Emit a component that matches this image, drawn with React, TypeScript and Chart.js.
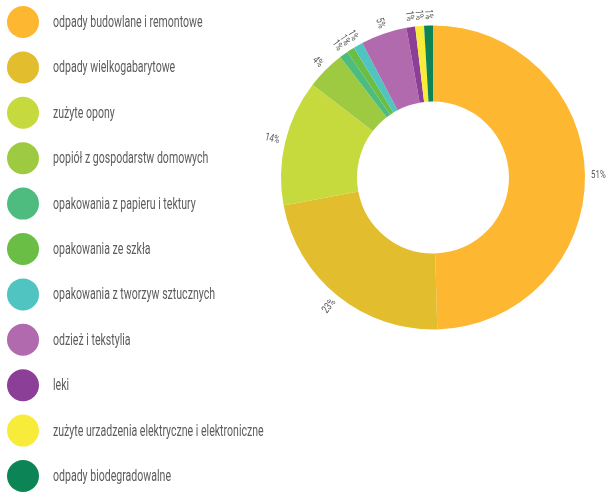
import React, { useEffect, useRef } from "react";
import { Chart, registerables } from "chart.js";

Chart.register(...registerables);

const categories = [
  "odpady budowlane i remontowe",
  "odpady wielkogabarytowe",
  "zużyte opony",
  "popiół z gospodarstw domowych",
  "opakowania z papieru i tektury",
  "opakowania ze szkła",
  "opakowania z tworzyw sztucznych",
  "odzież i tekstylia",
  "leki",
  "zużyte urzadzenia elektryczne i elektroniczne",
  "odpady biodegradowalne",
];

const values = [49.55, 22.5, 13.4, 4.1, 0.92, 0.83, 1.0, 4.9, 0.93, 0.93, 0.94];

const valueLabels = ["51%", "23%", "14%", "4%", "1%", "1%", "1%", "5%", "1%", "1%", "1%"];

const colors = [
  "#FDB730",
  "#E2BD2E",
  "#C6DA3E",
  "#9DCA40",
  "#4DBC7E",
  "#6BBE45",
  "#50C4C0",
  "#B06AAD",
  "#8C3F96",
  "#F8EC3A",
  "#0C8455",
];

const FONT = "Roboto, 'Noto Sans', sans-serif";
const LEGEND_SQUEEZE = 0.66;
const LABEL_SQUEEZE = 0.72;

const legendPlugin = {
  id: "customLegend",
  afterDraw(chart: any) {
    const ctx = chart.ctx;
    const labels = chart.data.labels as string[];
    const bg = chart.data.datasets[0].backgroundColor as string[];
    ctx.save();
    labels.forEach((lab, i) => {
      const cy = 22 + i * 45.4;
      ctx.beginPath();
      ctx.arc(23, cy, 16, 0, Math.PI * 2);
      ctx.fillStyle = bg[i];
      ctx.fill();
      ctx.save();
      ctx.fillStyle = "#5c5c5c";
      ctx.font = `16px ${FONT}`;
      ctx.textAlign = "left";
      ctx.textBaseline = "middle";
      ctx.translate(53, cy + 1);
      ctx.scale(LEGEND_SQUEEZE, 1);
      ctx.fillText(lab, 0, 0);
      ctx.restore();
    });
    ctx.restore();
  },
};

const sliceLabelPlugin = {
  id: "sliceLabels",
  afterDatasetsDraw(chart: any) {
    const ctx = chart.ctx;
    const meta = chart.getDatasetMeta(0);
    ctx.save();
    ctx.fillStyle = "#555";
    ctx.font = `11px ${FONT}`;
    ctx.textBaseline = "middle";
    meta.data.forEach((arc: any, i: number) => {
      const p = arc.getProps(["x", "y", "startAngle", "endAngle", "outerRadius"], true);
      const mid = (p.startAngle + p.endAngle) / 2;
      const r = p.outerRadius + 6;
      ctx.save();
      ctx.translate(p.x, p.y);
      if (Math.cos(mid) >= 0) {
        ctx.rotate(mid);
        ctx.translate(r, 0);
        ctx.scale(LABEL_SQUEEZE, 1);
        ctx.textAlign = "left";
        ctx.fillText(valueLabels[i], 0, 0);
      } else {
        ctx.rotate(mid + Math.PI);
        ctx.translate(-r, 0);
        ctx.scale(LABEL_SQUEEZE, 1);
        ctx.textAlign = "right";
        ctx.fillText(valueLabels[i], 0, 0);
      }
      ctx.restore();
    });
    ctx.restore();
  },
};

export default function App() {
  const ref = useRef<HTMLCanvasElement>(null);
  useEffect(() => {
    document.body.style.margin = "0";
    const chart = new Chart(ref.current!, {
      type: "doughnut",
      data: {
        labels: categories,
        datasets: [
          {
            data: values,
            backgroundColor: colors,
            borderWidth: 0,
          },
        ],
      },
      options: {
        animation: false,
        responsive: false,
        cutout: "50%",
        layout: { padding: { left: 281, right: 21, top: 25, bottom: 162 } },
        plugins: {
          legend: { display: false },
          tooltip: { enabled: false },
        },
      },
      plugins: [legendPlugin, sliceLabelPlugin],
    });
    return () => chart.destroy();
  }, []);
  return (
    <div style={{ position: "fixed", left: 0, top: 0, width: 606, height: 492, background: "#fff" }}>
      <canvas ref={ref} width={606} height={492} style={{ width: 606, height: 492 }} />
    </div>
  );
}
